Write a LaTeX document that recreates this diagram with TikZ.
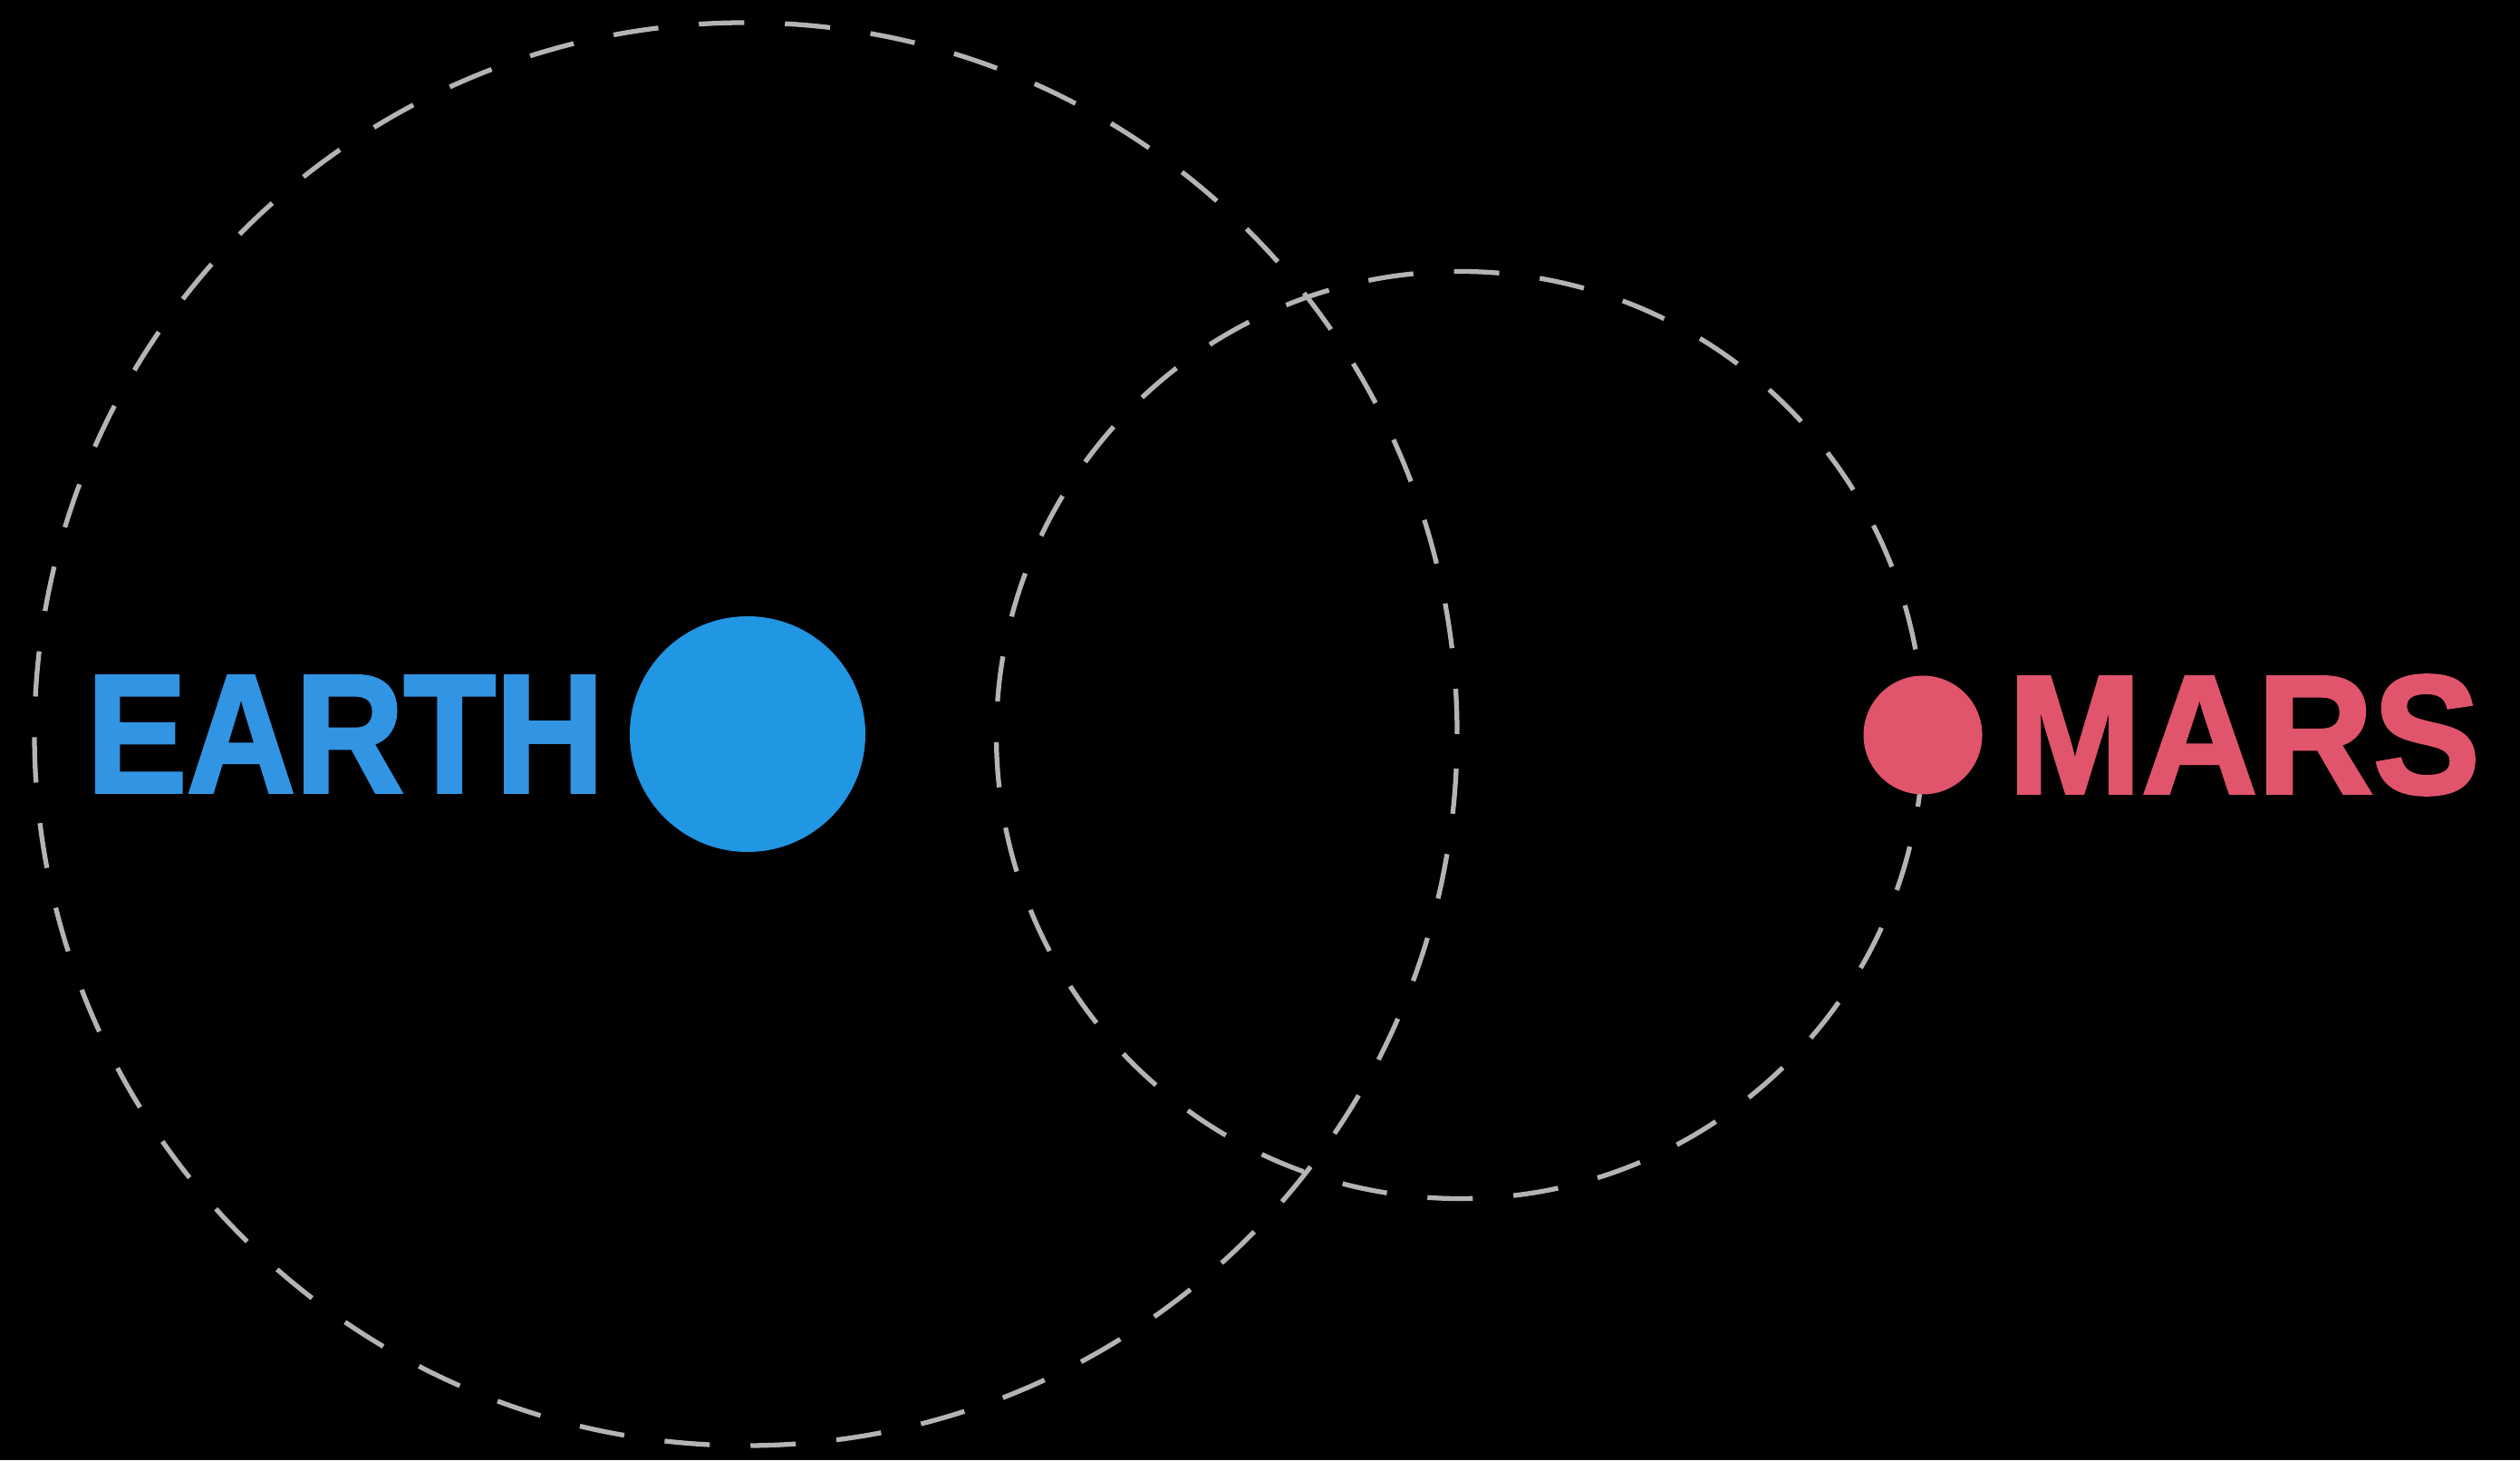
\documentclass[tikz,border=0pt]{standalone}
\usepackage{fontspec}
\usepackage{tikz}
\usetikzlibrary{positioning}
\newfontfamily\planetfont[FakeStretch=0.89,FakeBold=2]{Liberation Sans}
\newfontfamily\marsfont[FakeStretch=0.95,FakeBold=2]{Liberation Sans}
\definecolor{earthblue}{HTML}{2196E2}
\definecolor{earthtext}{HTML}{3295E4}
\definecolor{marsred}{HTML}{E0546C}
\definecolor{orbitgray}{HTML}{B4B4B4}

\begin{document}
\begin{tikzpicture}[
  orbit/.style={draw=orbitgray, line width=1.5pt, dash pattern=on 0.5cm off 0.45cm},
  planet/.style={circle, inner sep=0pt},
  planetlabel/.style={inner sep=0pt, font=\bfseries\fontsize{53}{60}\selectfont}
]
\fill[black] (0,0) rectangle (27.81,16.11);
\useasboundingbox (0,0) rectangle (27.81,16.11);

\draw[orbit] (8.23,8.01) circle (7.85);
\draw[orbit] (16.11,8.00) circle (5.115);

\node[planet, fill=earthblue, minimum size=2.6cm] (earth) at (8.25,8.01) {};
\node[planet, fill=marsred, minimum size=1.31cm] (mars) at (21.22,8.00) {};

\node[planetlabel, text=earthtext, left=0.27cm of earth] (earthlabel) {\planetfont EARTH};
\node[planetlabel, text=marsred, right=0.27cm of mars] (marslabel) {\marsfont MARS};
\end{tikzpicture}
\end{document}
